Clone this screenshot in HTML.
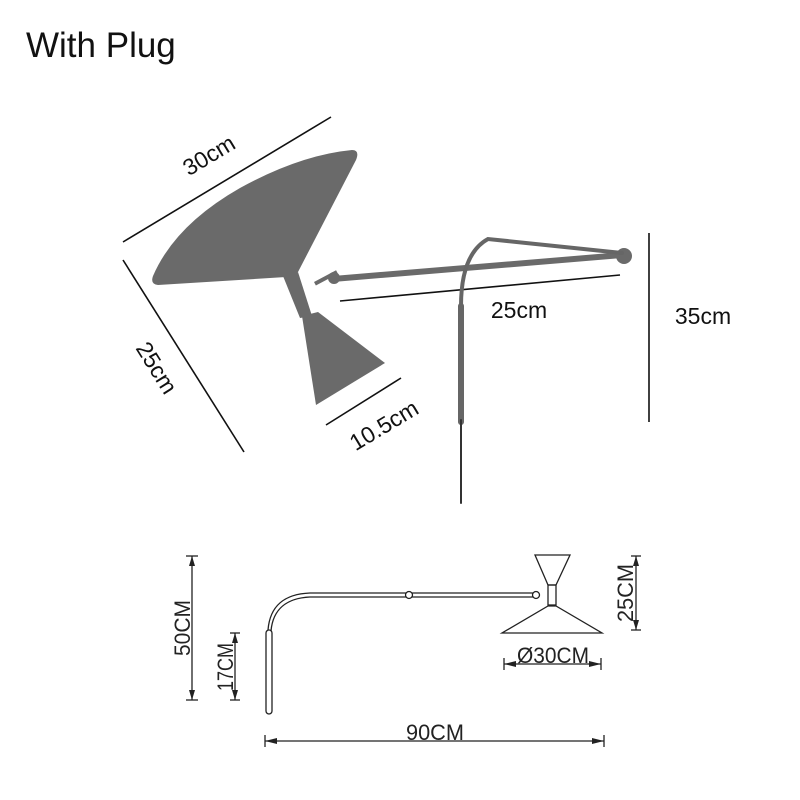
<!DOCTYPE html>
<html><head><meta charset="utf-8"><style>html,body{margin:0;padding:0;background:#fff;width:800px;height:800px;overflow:hidden}svg{display:block}</style></head>
<body>
<svg width="800" height="800" viewBox="0 0 800 800" xmlns="http://www.w3.org/2000/svg" font-family="Liberation Sans, sans-serif">
<text x="26" y="57" font-size="35" fill="#111">With Plug</text>
<g stroke="#111" stroke-width="1.6">
<line x1="123" y1="242" x2="331" y2="117"/>
<line x1="123" y1="260" x2="244" y2="452"/>
<line x1="340" y1="301" x2="620" y2="275"/>
<line x1="649" y1="233" x2="649" y2="422"/>
<line x1="326" y1="425" x2="401" y2="378"/>
</g>
<text x="213" y="162" font-size="23" fill="#111" transform="rotate(-31 213 162)" text-anchor="middle">30cm</text>
<text x="150" y="372" font-size="23" fill="#111" transform="rotate(58 150 372)" text-anchor="middle">25cm</text>
<text x="519" y="318" font-size="23" fill="#111" text-anchor="middle">25cm</text>
<text x="703" y="324" font-size="23" fill="#111" text-anchor="middle">35cm</text>
<text x="388" y="432" font-size="23" fill="#111" transform="rotate(-31 388 432)" text-anchor="middle">10.5cm</text>
<g fill="#6a6a6a">
<path d="M352,150 Q360,150 356,160 L298,272 L286,277 L158,285 Q150,284 153,276 Q175,225 240,188 Q300,155 352,150 Z"/>
<path d="M283,276 L298,272 L312,316 L300,318 Z"/>
<path d="M302,316 L318,312 L385,363 L316,405 Z"/>
<rect x="314" y="282" width="25" height="4" transform="rotate(-28 314 282)"/>
<path d="M333,276 L622,252 L622,258 L333,282 Z"/>
<circle cx="334" cy="278" r="6"/>
<circle cx="624" cy="256" r="8"/>
</g>
<g fill="none" stroke="#666" stroke-linecap="round">
<path d="M461,306 C461,275 468,250 488,239 L622,253" stroke-width="4"/>
<line x1="461" y1="306" x2="461" y2="422" stroke-width="6"/>
<line x1="461" y1="420" x2="461" y2="503" stroke-width="2" stroke="#333"/>
</g>
<g stroke="#222" stroke-width="1.3" fill="none">
<line x1="192" y1="556" x2="192" y2="700"/><line x1="186" y1="556" x2="198" y2="556"/><line x1="186" y1="700" x2="198" y2="700"/>
<line x1="235" y1="633" x2="235" y2="700"/><line x1="230" y1="633" x2="240" y2="633"/><line x1="230" y1="700" x2="240" y2="700"/>
<line x1="265" y1="741" x2="604" y2="741"/><line x1="265" y1="735" x2="265" y2="747"/><line x1="604" y1="735" x2="604" y2="747"/>
<line x1="504" y1="664" x2="601" y2="664"/><line x1="504" y1="658" x2="504" y2="670"/><line x1="601" y1="658" x2="601" y2="670"/>
<line x1="636" y1="556" x2="636" y2="630"/><line x1="631" y1="556" x2="641" y2="556"/><line x1="631" y1="630" x2="641" y2="630"/>
<rect x="266" y="630" width="6" height="84" rx="3"/>
<path d="M268,630 C270,605 285,594 310,593 L536,593"/>
<path d="M271,631 C273,608 288,598 310,597 L536,597"/>
<circle cx="409" cy="595" r="3.5" fill="#fff"/>
<circle cx="536" cy="595" r="3.5" fill="#fff"/>
<path d="M535,555 L570,555 L556,585 L548,585 Z"/>
<rect x="548" y="585" width="8" height="20"/>
<path d="M548,606 L556,606 L602,633 L502,633 Z"/>
</g>
<g fill="#222"><path d="M192,556 l-3,10 h6z"/><path d="M192,700 l-3,-10 h6z"/><path d="M235,633 l-3,10 h6z"/><path d="M235,700 l-3,-10 h6z"/><path d="M265,741 l12,-3 v6z"/><path d="M604,741 l-12,-3 v6z"/><path d="M504,664 l12,-3 v6z"/><path d="M601,664 l-12,-3 v6z"/><path d="M636,556 l-3,10 h6z"/><path d="M636,630 l-3,-10 h6z"/></g>
<g font-size="22" fill="#222" font-family="Liberation Sans, sans-serif">
<text x="190" y="628" transform="rotate(-90 190 628)" text-anchor="middle" textLength="56" lengthAdjust="spacingAndGlyphs">50CM</text>
<text x="233" y="667" transform="rotate(-90 233 667)" text-anchor="middle" textLength="48" lengthAdjust="spacingAndGlyphs">17CM</text>
<text x="633" y="593" transform="rotate(-90 633 593)" text-anchor="middle" textLength="58" lengthAdjust="spacingAndGlyphs">25CM</text>
<text x="553" y="663" text-anchor="middle" textLength="72" lengthAdjust="spacingAndGlyphs">Ø30CM</text>
<text x="435" y="740" text-anchor="middle" textLength="58" lengthAdjust="spacingAndGlyphs">90CM</text>
</g>
</svg>
</body></html>
